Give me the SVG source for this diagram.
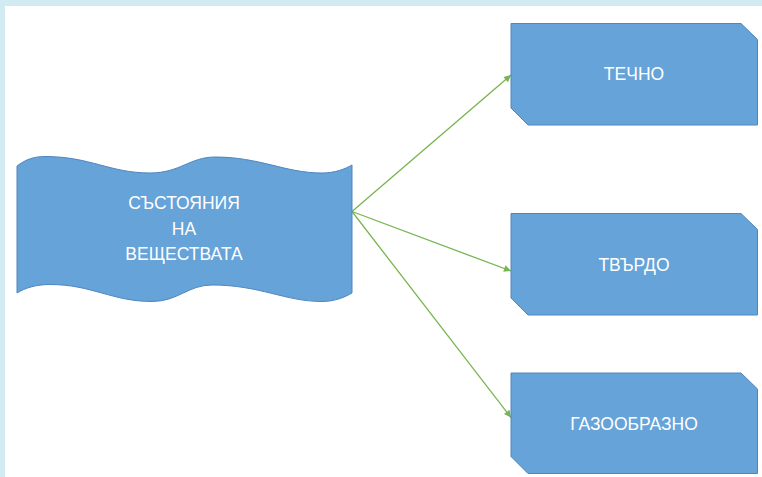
<svg xmlns="http://www.w3.org/2000/svg" width="762" height="477" viewBox="0 0 762 477">
<style>
.shape{fill:#65a3d9;stroke:#4f86bf;stroke-width:1}
.lbl{font-family:"Liberation Sans",Arial,sans-serif;font-size:17.5px;fill:#ffffff;text-anchor:middle}
.conn{stroke:#76b54f;stroke-width:1.3;fill:none;marker-end:url(#arr)}
</style>
<defs>
<marker id="arr" viewBox="0 0 10 10" refX="10" refY="5" markerWidth="9" markerHeight="7" markerUnits="userSpaceOnUse" orient="auto">
<path d="M0,0 L10,5 L0,10 Z" fill="#76b54f"/>
</marker>
</defs>
<rect x="0" y="0" width="762" height="477" fill="#ffffff"/>
<rect x="0" y="0" width="762" height="6" fill="#d2eaf2"/>
<rect x="0" y="0" width="5" height="477" fill="#d2eaf2"/>
<g id="connectors">
<line class="conn" x1="352" y1="211.5" x2="511" y2="75"/>
<line class="conn" x1="352" y1="211.5" x2="511" y2="271"/>
<line class="conn" x1="352" y1="211.5" x2="511" y2="417.5"/>
</g>
<g id="n-states">
<path class="shape" d="M17,166 C25,160 33,156.5 45,156.5 C90,156.5 110,173 150,173 C180,173 190,157 215,157 C260,157 285,173 322,173 C335,173 345,169 352,165 L352,293 C345,297 335,301.5 322,301.5 C285,301.5 260,285 212,285 C188,285 178,301.5 152,301.5 C112,301.5 92,284.5 50,284.5 C36,284.5 25,288 17,293 Z"/>
<text class="lbl" x="184" y="209">СЪСТОЯНИЯ</text>
<text class="lbl" x="184" y="235">НА</text>
<text class="lbl" x="184" y="260">ВЕЩЕСТВАТА</text>
</g>
<g id="n-liquid">
<path class="shape" d="M511,23.5 L741,23.5 L757.5,39.5 L757.5,125 L528,125 L511,108 Z"/>
<text class="lbl" x="634" y="80">ТЕЧНО</text>
</g>
<g id="n-solid">
<path class="shape" d="M511,213.5 L741,213.5 L757.5,229.5 L757.5,315 L528,315 L511,298 Z"/>
<text class="lbl" x="634" y="270.5">ТВЪРДО</text>
</g>
<g id="n-gas">
<path class="shape" d="M511,373 L741,373 L757.5,389 L757.5,473.5 L528,473.5 L511,456.5 Z"/>
<text class="lbl" x="634" y="430">ГАЗООБРАЗНО</text>
</g>
</svg>
